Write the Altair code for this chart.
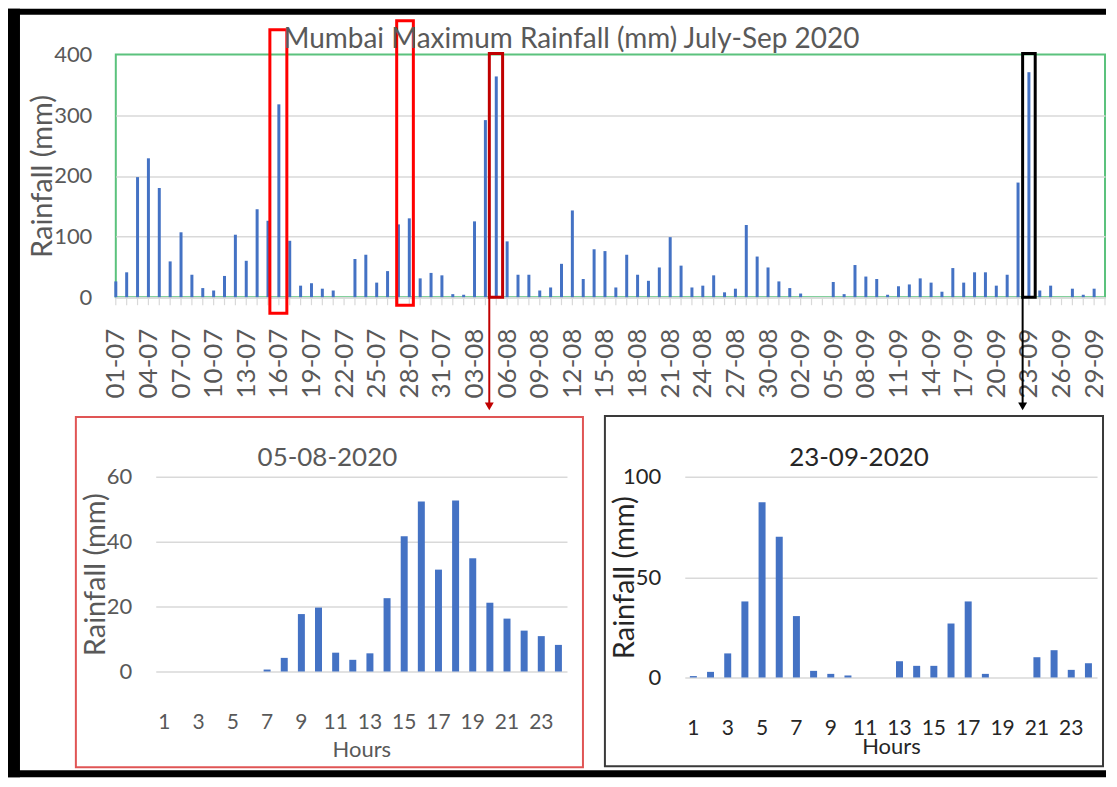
import altair as alt
import pandas as pd

# ---------------- data ----------------
DATES = list(pd.date_range("2020-07-01", "2020-09-30").strftime("%d-%m"))
DATE_TICKS = DATES[::3]
DAILY_MAX = [
    # July
    26, 41, 198, 229, 180, 59, 107, 37, 15, 11, 35, 103, 60, 145, 126, 318,
    93, 19, 23, 14, 11, 0, 63, 70, 24, 43, 120, 130, 31, 40, 36,
    # August
    5, 4, 125, 292, 364, 92, 37, 37, 11, 16, 55, 143, 30, 79, 76, 16,
    70, 37, 27, 49, 99, 52, 16, 19, 36, 8, 14, 119, 67, 49, 26,
    # September
    15, 6, 0, 0, 25, 5, 53, 34, 30, 4, 18, 21, 31, 24, 9, 48,
    24, 41, 41, 19, 37, 189, 371, 11, 19, 0, 14, 4, 14, 0,
]
HOURS = list(range(1, 25))
AUG05 = [0, 0, 0, 0, 0, 0, 0.6, 4.2, 17.7, 19.7, 5.8, 3.6,
         5.6, 22.6, 41.7, 52.4, 31.4, 52.7, 34.9, 21.2, 16.3, 12.6, 10.9, 8.2]
SEP23 = [0.7, 2.8, 12, 37.9, 87.4, 70.1, 30.6, 3.3, 1.8, 1.0, 0, 0,
         8.1, 5.8, 5.8, 26.9, 37.9, 1.8, 0, 0, 10.1, 13.6, 3.8, 7.1]
HOUR_TICKS = list(range(1, 24, 2))
Y_MAIN_TICKS = [0, 100, 200, 300, 400]
Y_SUB1_TICKS = [0, 20, 40, 60]
Y_SUB2_TICKS = [0, 50, 100]
MAIN_TITLE = "Mumbai Maximum Rainfall (mm) July-Sep 2020"
SUB1_TITLE = "05-08-2020"
SUB2_TITLE = "23-09-2020"

# ---------------- style ----------------
FONT = "Lato"
GRAY = "#595959"
DARK = "#262626"
GRID = "#d9d9d9"
BLUE = "#4472C4"
GREEN = "#5BC27D"

W, H = 991, 243
W1, H1 = 412, 195
W2, H2 = 413, 201

main_df = pd.DataFrame({"date": DATES, "rain": DAILY_MAX})
xscale = alt.Scale(type="point", padding=0, domain=DATES)

x_main = alt.X(
    "date:N", scale=xscale, sort=None, title="",
    axis=alt.Axis(values=DATE_TICKS, labelAngle=270, labelFlush=False, labelOverlap=False,
                  labelFont=FONT, labelFontSize=26, labelColor=GRAY, labelPadding=31,
                  ticks=False, tickSize=0, domainColor=GRID, domainWidth=1.5, grid=False))
y_main = alt.Y(
    "rain:Q", scale=alt.Scale(domain=[0, 400], nice=False),
    axis=alt.Axis(values=Y_MAIN_TICKS, title="Rainfall (mm)", titleFont=FONT,
                  titleFontSize=29, titleColor=GRAY, titleFontWeight="normal",
                  titleX=-73, titleBaseline="middle",
                  labelFont=FONT, labelFontSize=22, labelColor=GRAY, labelPadding=24,
                  ticks=False, tickSize=0, domain=False, gridWidth=1.5,
                  gridColor={"condition": {"test": "datum.value >= 400", "value": "transparent"},
                             "value": GRID}))

bars = alt.Chart(main_df).mark_bar(size=3, color=BLUE).encode(x=x_main, y=y_main)

# small tick marks under every day
day_ticks = alt.Chart(main_df).mark_rule(color=GRID, strokeWidth=1.2).encode(
    x=x_main, y=alt.value(H), y2=alt.value(H + 8))


def box(d, color, xo, width, ytop, ybot):
    df = pd.DataFrame({"date": [d]})
    return alt.Chart(df).mark_bar(size=width, fillOpacity=0, stroke=color, strokeWidth=3,
                                  xOffset=xo).encode(
        x=x_main, y=alt.value(ytop), y2=alt.value(ybot))


def arrow(d, color, xo):
    df = pd.DataFrame({"date": [d]})
    base = alt.Chart(df)
    line = base.mark_rule(color=color, strokeWidth=2, xOffset=xo).encode(
        x=x_main, y=alt.value(H), y2=alt.value(350))
    head = base.mark_point(shape="triangle-down", filled=True, size=80, color=color,
                           opacity=1, xOffset=xo).encode(
        x=x_main, y=alt.value(352.5))
    return [line, head]


layers = [day_ticks, bars,
          box("16-07", "#FF0000", -0.5, 17, -25, 259),
          box("27-07", "#FF0000", 6.6, 16.7, -34, 251),
          box("05-08", "#C00000", -0.3, 13.3, -1, H),
          box("23-09", "#000000", 0, 12.6, -1, H)]
layers += arrow("05-08", "#C00000", -7)
layers += arrow("23-09", "#000000", -6.3)

main = alt.layer(*layers).properties(
    width=W, height=H,
    view=alt.ViewBackground(stroke=GREEN, strokeWidth=2),
    title=alt.TitleParams(MAIN_TITLE, font=FONT, fontSize=28, color=GRAY,
                          fontWeight="normal", anchor="middle", frame="group",
                          baseline="alphabetic", offset=0, dx=-39, dy=57))


def sub(hours, vals, ticks, ymax, w, h, title, color, title_dx, title_dy, hours_y):
    df = pd.DataFrame({"hour": hours, "rain": vals})
    return alt.Chart(df).mark_bar(size=7, color=BLUE).encode(
        x=alt.X("hour:O", scale=alt.Scale(paddingInner=0, paddingOuter=0),
                axis=alt.Axis(values=HOUR_TICKS, labelAngle=0, title="Hours",
                              titleFont=FONT, titleFontSize=22, titleColor=color,
                              titleFontWeight="normal", titleY=hours_y, titleBaseline="middle",
                              labelFont=FONT, labelFontSize=21, labelColor=color,
                              labelPadding=40, ticks=False, tickSize=0, domain=False,
                              grid=False)),
        y=alt.Y("rain:Q", scale=alt.Scale(domain=[0, ymax], nice=False),
                axis=alt.Axis(values=ticks, title="Rainfall (mm)", titleFont=FONT,
                              titleFontSize=29, titleColor=color, titleFontWeight="normal",
                              titleX=-60, titleBaseline="middle",
                              labelFont=FONT, labelFontSize=22, labelColor=color,
                              labelPadding=24, ticks=False, tickSize=0, domain=False,
                              gridColor=GRID, gridWidth=1.5)),
    ).properties(
        width=w, height=h,
        title=alt.TitleParams(title, font=FONT, fontSize=26, color=color,
                              fontWeight="normal", anchor="middle", frame="group",
                              baseline="alphabetic", offset=0, dx=title_dx, dy=title_dy))


sub1 = sub(HOURS, AUG05, Y_SUB1_TICKS, 60, W1, H1, SUB1_TITLE, GRAY, -34, 26, 78)
sub2 = sub(HOURS, SEP23, Y_SUB2_TICKS, 100, W2, H2, SUB2_TITLE, DARK, -32, 26, 69)

# spacer carrying the frames (origin = left/top of the lower row)
ONE = pd.DataFrame({"v": [0]})


def px_rect(x1, x2, y1, y2, **mark):
    return alt.Chart(ONE).mark_rect(**mark).encode(
        x=alt.value(x1), x2=alt.value(x2), y=alt.value(y1), y2=alt.value(y2))


spacer = alt.layer(
    px_rect(-108, 992, -469, -463, color="black"),
    px_rect(-108, -96, -469, 301, color="black"),
    px_rect(-108, 992, 294, 301, color="black"),
    px_rect(-40, 468, -60, 291, fillOpacity=0, stroke="#E05555", strokeWidth=2),
    px_rect(490, 989, -61, 290, fillOpacity=0, stroke="#3a3a3a", strokeWidth=2),
).properties(width=1, height=1)

row = alt.hconcat(spacer, alt.hconcat(sub1, sub2, spacing=118, bounds="flush"),
                  spacing=39, bounds="flush")

chart = alt.vconcat(main, row, spacing=180, bounds="flush").properties(
    padding=0, background="white"
).configure_view(strokeWidth=0)

chart.save("out.html", embed_options={"renderer": "svg", "actions": False})
